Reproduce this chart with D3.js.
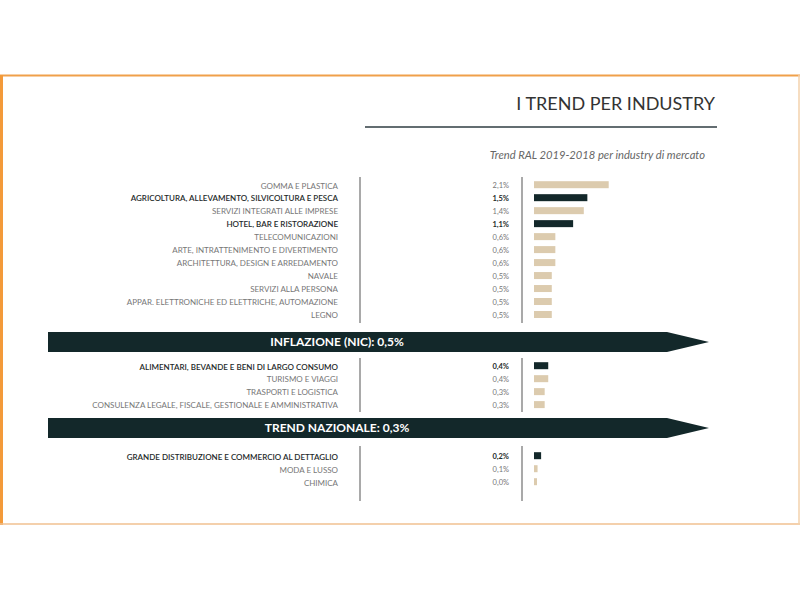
<!DOCTYPE html>
<html>
<head>
<meta charset="utf-8">
<script src="https://cdn.jsdelivr.net/npm/d3@7"></script>
<style>
  body { margin: 0; background: #fff; }
  svg { display: block; font-family: Lato, "Open Sans", sans-serif; }
</style>
</head>
<body>
<div id="chart"></div>
<script>
// industries above inflation
const aboveLabels = [
  "GOMMA E PLASTICA",
  "AGRICOLTURA, ALLEVAMENTO, SILVICOLTURA E PESCA",
  "SERVIZI INTEGRATI ALLE IMPRESE",
  "HOTEL, BAR E RISTORAZIONE",
  "TELECOMUNICAZIONI",
  "ARTE, INTRATTENIMENTO E DIVERTIMENTO",
  "ARCHITETTURA, DESIGN E ARREDAMENTO",
  "NAVALE",
  "SERVIZI ALLA PERSONA",
  "APPAR. ELETTRONICHE ED ELETTRICHE, AUTOMAZIONE",
  "LEGNO"
];
const aboveValues = [2.1, 1.5, 1.4, 1.1, 0.6, 0.6, 0.6, 0.5, 0.5, 0.5, 0.5];

// between inflation and national trend
const midLabels = [
  "ALIMENTARI, BEVANDE E BENI DI LARGO CONSUMO",
  "TURISMO E VIAGGI",
  "TRASPORTI E LOGISTICA",
  "CONSULENZA LEGALE, FISCALE, GESTIONALE E AMMINISTRATIVA"
];
const midValues = [0.4, 0.4, 0.3, 0.3];

// below national trend
const belowLabels = [
  "GRANDE DISTRIBUZIONE E COMMERCIO AL DETTAGLIO",
  "MODA E LUSSO",
  "CHIMICA"
];
const belowValues = [0.2, 0.1, 0.0];

const highlighted = [
  "AGRICOLTURA, ALLEVAMENTO, SILVICOLTURA E PESCA",
  "HOTEL, BAR E RISTORAZIONE",
  "ALIMENTARI, BEVANDE E BENI DI LARGO CONSUMO",
  "GRANDE DISTRIBUZIONE E COMMERCIO AL DETTAGLIO"
];

const benchmarkLabels = ["INFLAZIONE (NIC): 0,5%", "TREND NAZIONALE: 0,3%"];

const width = 800, height = 600;
const dark = "#13282a";
const beige = "#dccbae";

const svg = d3.select("#chart").append("svg")
  .attr("width", width)
  .attr("height", height);

// orange frame
const frame = svg.append("g");
frame.append("line").attr("x1", 0).attr("x2", 800).attr("y1", 75.5).attr("y2", 75.5)
  .attr("stroke", "#f0a04a").attr("stroke-width", 2);
frame.append("line").attr("x1", 1.5).attr("x2", 1.5).attr("y1", 75).attr("y2", 525)
  .attr("stroke", "#f39a3a").attr("stroke-width", 3);
frame.append("line").attr("x1", 0).attr("x2", 800).attr("y1", 524).attr("y2", 524)
  .attr("stroke", "#f0c090").attr("stroke-width", 1.5);
frame.append("line").attr("x1", 799).attr("x2", 799).attr("y1", 75).attr("y2", 525)
  .attr("stroke", "#f3d2ac").attr("stroke-width", 1.5);

// title
svg.append("text")
  .attr("x", 715).attr("y", 110)
  .attr("text-anchor", "end")
  .style("font-size", "18px")
  .style("fill", "#333")
  .text("I TREND PER INDUSTRY");

svg.append("line")
  .attr("x1", 365).attr("x2", 717).attr("y1", 127).attr("y2", 127)
  .attr("stroke", "#2f3d42").attr("stroke-width", 1.6);

svg.append("text")
  .attr("x", 705).attr("y", 159)
  .attr("text-anchor", "end")
  .style("font-size", "11.2px")
  .style("font-style", "italic")
  .style("fill", "#666")
  .text("Trend RAL 2019-2018 per industry di mercato");

// scales
const x = d3.scaleLinear().domain([0, 2.1]).range([534, 608.7]);
const fmt = v => d3.format(".1f")(v).replace(".", ",") + "%";

const labelX = 338, valueX = 509, sep1 = 360, sep2 = 522;

const groups = [
  { labels: aboveLabels, values: aboveValues, range: [185.7, 315.5], lines: [177, 323] },
  { labels: midLabels, values: midValues, range: [366.7, 405.6], lines: [358, 412] },
  { labels: belowLabels, values: belowValues, range: [456.7, 482.7], lines: [446, 501] }
];

groups.forEach(gr => {
  const y = d3.scalePoint().domain(gr.labels).range(gr.range);
  const data = gr.labels.map((l, i) => ({ label: l, value: gr.values[i], hi: highlighted.includes(l) }));
  const g = svg.append("g");

  [sep1, sep2].forEach(sx => {
    g.append("line")
      .attr("x1", sx).attr("x2", sx)
      .attr("y1", gr.lines[0]).attr("y2", gr.lines[1])
      .attr("stroke", "#a9a9a9").attr("stroke-width", 2);
  });

  g.selectAll("text.label")
    .data(data)
    .enter().append("text")
    .attr("class", "label")
    .attr("x", labelX)
    .attr("y", d => y(d.label))
    .attr("dy", "0.35em")
    .attr("text-anchor", "end")
    .style("font-size", "8px")
    .style("font-weight", d => d.hi ? 600 : 400)
    .style("fill", d => d.hi ? "#1e2a2a" : "#777")
    .text(d => d.label);

  g.selectAll("text.value")
    .data(data)
    .enter().append("text")
    .attr("class", "value")
    .attr("x", valueX)
    .attr("y", d => y(d.label))
    .attr("dy", "0.35em")
    .attr("text-anchor", "end")
    .style("font-size", "7.5px")
    .style("font-weight", d => d.hi ? 700 : 400)
    .style("fill", d => d.hi ? "#1e2a2a" : "#777")
    .text(d => fmt(d.value));

  g.selectAll("rect")
    .data(data)
    .enter().append("rect")
    .attr("x", x(0))
    .attr("y", d => y(d.label) - 4.5)
    .attr("width", d => Math.max(x(d.value) - x(0), 3))
    .attr("height", 7)
    .attr("fill", d => d.hi ? dark : beige);
});

// benchmark arrows
const arrowTops = [332, 418];
benchmarkLabels.forEach((lbl, i) => {
  const t = arrowTops[i], b = t + 20, m = t + 10;
  svg.append("path")
    .attr("d", `M48,${t} L667,${t} L709,${m} L667,${b} L48,${b} Z`)
    .attr("fill", dark);
  svg.append("text")
    .attr("x", 337).attr("y", m)
    .attr("dy", "0.36em")
    .attr("text-anchor", "middle")
    .style("font-size", "12px")
    .style("font-weight", 700)
    .style("fill", "#fff")
    .text(lbl);
});
</script>
</body>
</html>
